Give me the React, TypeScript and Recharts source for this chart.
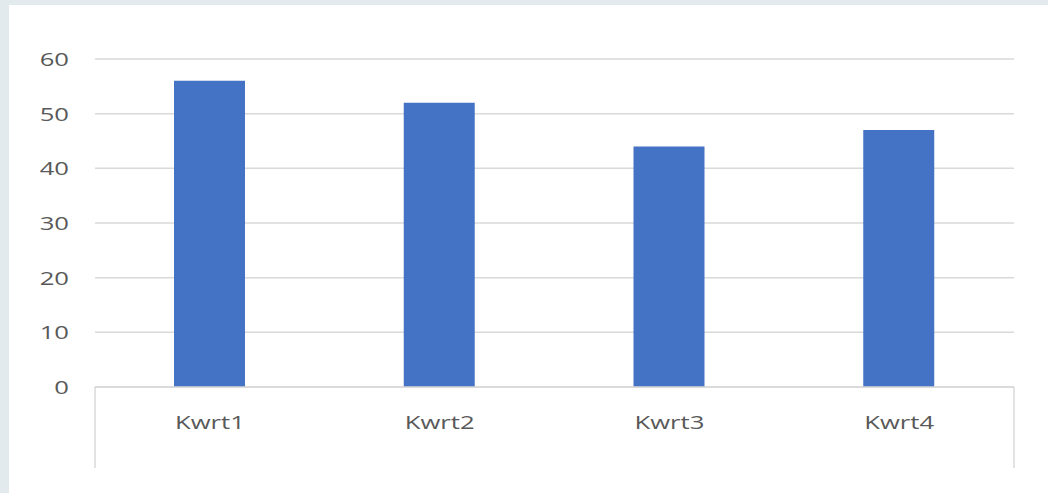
import { BarChart, Bar, XAxis, YAxis, CartesianGrid } from 'recharts';

const quarters = ['Kwrt1', 'Kwrt2', 'Kwrt3', 'Kwrt4'];
const values = [56, 52, 44, 47];
const yTicks = [0, 10, 20, 30, 40, 50, 60];

const data = quarters.map((q, i) => ({ name: q, value: values[i] }));

const TEXT = '#595959';
const FONT = '"Open Sans", "Noto Sans", sans-serif';

const YTick = (props: any) => {
  const { x, y, payload } = props;
  return (
    <g transform={`translate(${x},${y})`}>
      <text
        transform="scale(1.35,1)"
        textAnchor="end"
        dominantBaseline="central"
        fill={TEXT}
        fontSize={19}
        fontFamily={FONT}
      >
        {payload.value}
      </text>
    </g>
  );
};

const XTick = (props: any) => {
  const { x, y, payload, index, visibleTicksCount } = props;
  const half = payload.offset || 115;
  const top = y - 8;
  return (
    <g>
      <g transform={`translate(${x},${y})`}>
        <text
          transform="scale(1.35,1)"
          textAnchor="middle"
          y={34}
          fill={TEXT}
          fontSize={19}
          fontFamily={FONT}
        >
          {payload.value}
        </text>
      </g>
      {index === 0 && (
        <line x1={x - half} x2={x - half} y1={top} y2={top + 81} stroke="#d9d9d9" strokeWidth={1.5} />
      )}
      {index === visibleTicksCount - 1 && (
        <line x1={x + half} x2={x + half} y1={top} y2={top + 81} stroke="#d9d9d9" strokeWidth={1.5} />
      )}
    </g>
  );
};

const App = () => {
  return (
    <div
      style={{
        position: 'fixed',
        left: 0,
        top: 0,
        width: 1048,
        height: 493,
        background: '#e2eaed',
      }}
    >
      <div
        style={{
          position: 'absolute',
          left: 9,
          top: 5,
          right: 0,
          bottom: 0,
          background: '#ffffff',
        }}
      />
      <div style={{ position: 'absolute', left: 0, top: 0 }}>
        <BarChart
          width={1048}
          height={493}
          data={data}
          margin={{ top: 59, right: 34, left: 35, bottom: 26 }}
          barCategoryGap="0%"
        >
          <CartesianGrid vertical={false} stroke="#d9d9d9" strokeWidth={1.5} />
          <XAxis
            dataKey="name"
            height={80}
            axisLine={{ stroke: '#d9d9d9', strokeWidth: 1.5 }}
            tickLine={false}
            tick={<XTick />}
            interval={0}
          />
          <YAxis
            domain={[0, 60]}
            ticks={yTicks}
            width={60}
            axisLine={false}
            tickLine={false}
            tickMargin={20}
            tick={<YTick />}
          />
          <Bar dataKey="value" fill="#4472c4" barSize={71} isAnimationActive={false} />
        </BarChart>
      </div>
    </div>
  );
};

export default App;
